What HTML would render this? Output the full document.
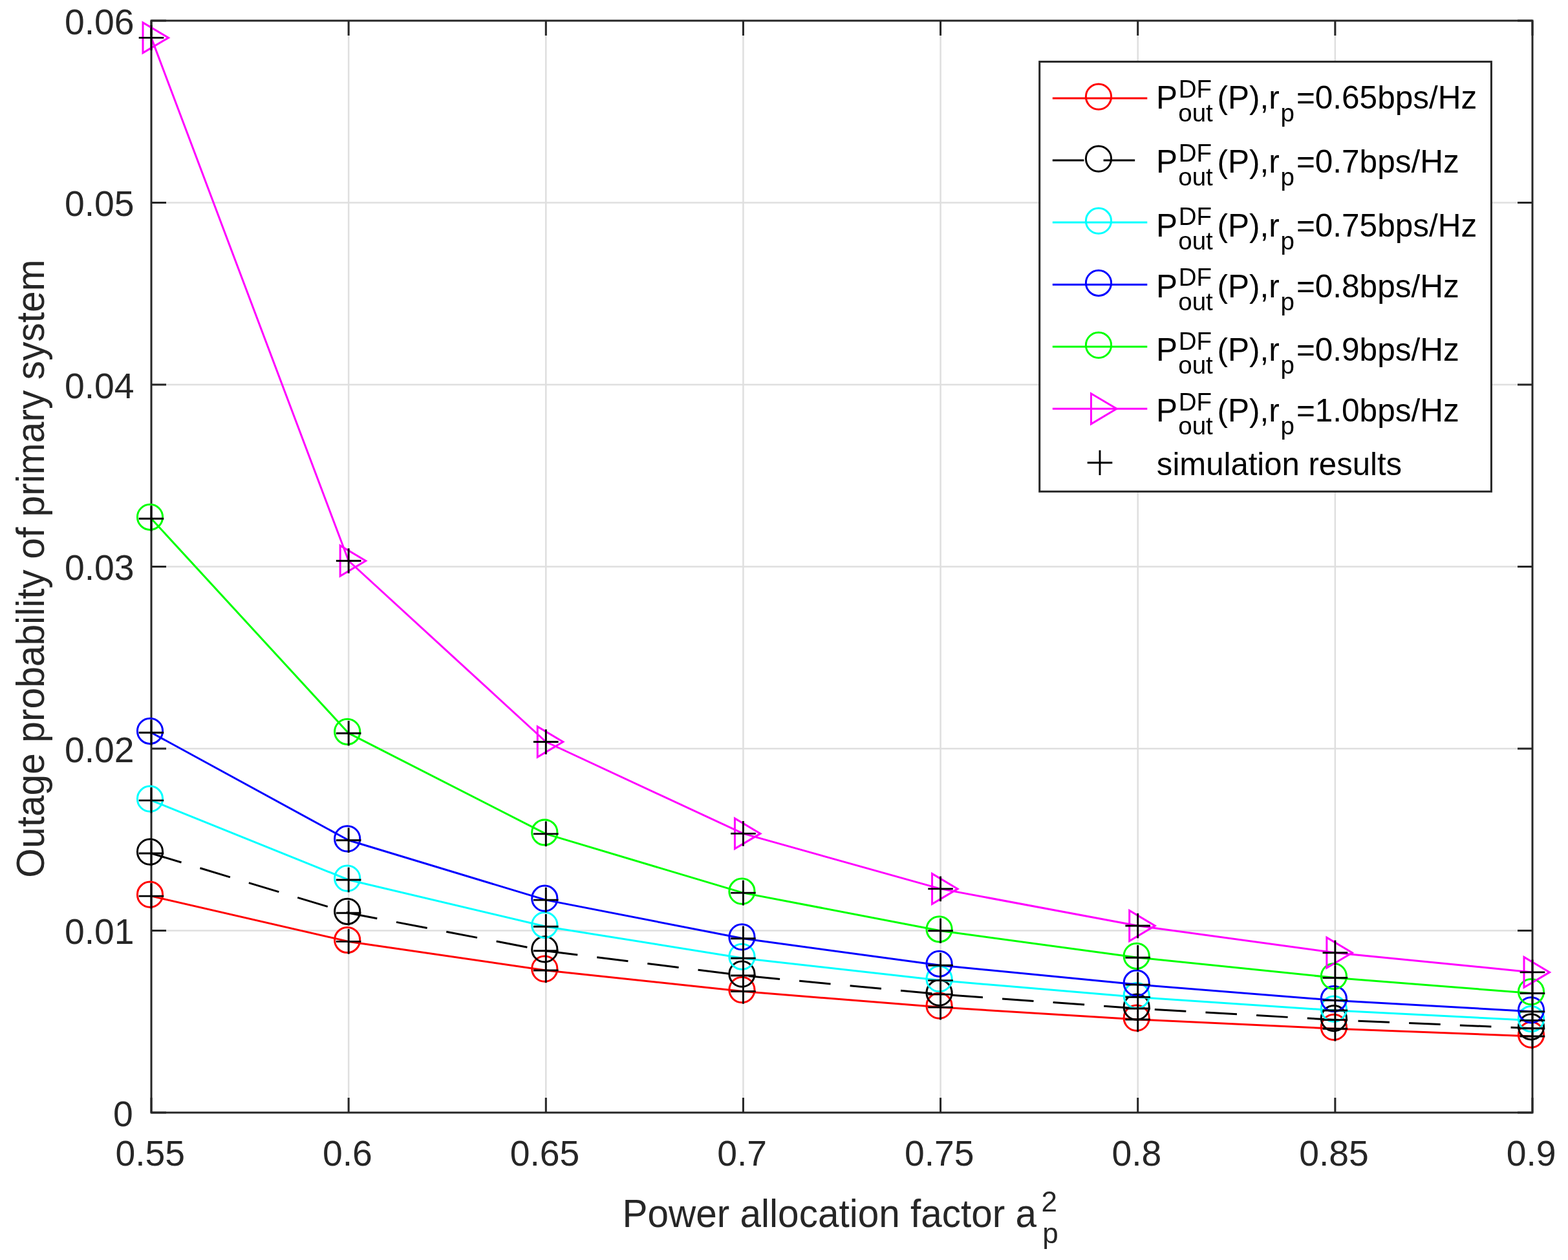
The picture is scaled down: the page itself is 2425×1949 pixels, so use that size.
<!DOCTYPE html>
<html><head><meta charset="utf-8"><title>Outage probability of primary system</title>
<style>
html,body{margin:0;padding:0;background:#fff;}
body{width:2425px;height:1949px;overflow:hidden;}
svg{display:block;}

text{font-family:'Liberation Sans', Arial, Helvetica, sans-serif;font-kerning:none;}
</style></head><body><div id="w">
<svg width="2425" height="1949" viewBox="0 0 2425 1949">
<rect width="2425" height="1949" fill="#fff"/>
<path d="M539.14 32.0V1721.0M844.29 32.0V1721.0M1149.43 32.0V1721.0M1454.57 32.0V1721.0M1759.71 32.0V1721.0M2064.86 32.0V1721.0M234.0 1439.50H2370.0M234.0 1158.00H2370.0M234.0 876.50H2370.0M234.0 595.00H2370.0M234.0 313.50H2370.0" stroke="#dfdfdf" stroke-width="2.5" fill="none"/>
<path d="M234.0 32.0H2370.0V1721.0H234.0Z" stroke="#262626" stroke-width="3.0" fill="none"/>
<path d="M539.14 1721.0v-23.0M539.14 32.0v23.0M844.29 1721.0v-23.0M844.29 32.0v23.0M1149.43 1721.0v-23.0M1149.43 32.0v23.0M1454.57 1721.0v-23.0M1454.57 32.0v23.0M1759.71 1721.0v-23.0M1759.71 32.0v23.0M2064.86 1721.0v-23.0M2064.86 32.0v23.0M234.00 1721.0v-23.0M234.00 32.0v23.0M2370.00 1721.0v-23.0M2370.00 32.0v23.0M234.0 1721.00h23.0M2370.0 1721.00h-23.0M234.0 1439.50h23.0M2370.0 1439.50h-23.0M234.0 1158.00h23.0M2370.0 1158.00h-23.0M234.0 876.50h23.0M2370.0 876.50h-23.0M234.0 595.00h23.0M2370.0 595.00h-23.0M234.0 313.50h23.0M2370.0 313.50h-23.0M234.0 32.00h23.0M2370.0 32.00h-23.0" stroke="#262626" stroke-width="3.0" fill="none"/>
<polyline points="234.00,1386.10 539.14,1456.40 844.29,1501.00 1149.43,1533.50 1454.57,1558.10 1759.71,1577.00 2064.86,1591.30 2370.00,1603.00" stroke="#ff0000" stroke-width="3.0" fill="none" stroke-linejoin="round"/>
<circle cx="232.00" cy="1383.70" r="19.6" stroke="#ff0000" stroke-width="3.0" fill="none"/>
<circle cx="537.14" cy="1454.00" r="19.6" stroke="#ff0000" stroke-width="3.0" fill="none"/>
<circle cx="842.29" cy="1498.60" r="19.6" stroke="#ff0000" stroke-width="3.0" fill="none"/>
<circle cx="1147.43" cy="1531.10" r="19.6" stroke="#ff0000" stroke-width="3.0" fill="none"/>
<circle cx="1452.57" cy="1555.70" r="19.6" stroke="#ff0000" stroke-width="3.0" fill="none"/>
<circle cx="1757.71" cy="1574.60" r="19.6" stroke="#ff0000" stroke-width="3.0" fill="none"/>
<circle cx="2062.86" cy="1588.90" r="19.6" stroke="#ff0000" stroke-width="3.0" fill="none"/>
<circle cx="2368.00" cy="1600.60" r="19.6" stroke="#ff0000" stroke-width="3.0" fill="none"/>
<polyline points="234.00,1320.00 539.14,1412.20 844.29,1470.80 1149.43,1509.00 1454.57,1538.10 1759.71,1560.00 2064.86,1577.60 2370.00,1590.70" stroke="#000000" stroke-width="3.0" fill="none" stroke-linejoin="round" stroke-dasharray="48.6 30.18"/>
<circle cx="232.00" cy="1317.60" r="19.6" stroke="#000000" stroke-width="3.0" fill="none"/>
<circle cx="537.14" cy="1409.80" r="19.6" stroke="#000000" stroke-width="3.0" fill="none"/>
<circle cx="842.29" cy="1468.40" r="19.6" stroke="#000000" stroke-width="3.0" fill="none"/>
<circle cx="1147.43" cy="1506.60" r="19.6" stroke="#000000" stroke-width="3.0" fill="none"/>
<circle cx="1452.57" cy="1535.70" r="19.6" stroke="#000000" stroke-width="3.0" fill="none"/>
<circle cx="1757.71" cy="1557.60" r="19.6" stroke="#000000" stroke-width="3.0" fill="none"/>
<circle cx="2062.86" cy="1575.20" r="19.6" stroke="#000000" stroke-width="3.0" fill="none"/>
<circle cx="2368.00" cy="1588.30" r="19.6" stroke="#000000" stroke-width="3.0" fill="none"/>
<polyline points="234.00,1238.10 539.14,1361.00 844.29,1433.20 1149.43,1482.20 1454.57,1516.60 1759.71,1542.40 2064.86,1563.00 2370.00,1578.40" stroke="#00ffff" stroke-width="3.0" fill="none" stroke-linejoin="round"/>
<circle cx="232.00" cy="1235.70" r="19.6" stroke="#00ffff" stroke-width="3.0" fill="none"/>
<circle cx="537.14" cy="1358.60" r="19.6" stroke="#00ffff" stroke-width="3.0" fill="none"/>
<circle cx="842.29" cy="1430.80" r="19.6" stroke="#00ffff" stroke-width="3.0" fill="none"/>
<circle cx="1147.43" cy="1479.80" r="19.6" stroke="#00ffff" stroke-width="3.0" fill="none"/>
<circle cx="1452.57" cy="1514.20" r="19.6" stroke="#00ffff" stroke-width="3.0" fill="none"/>
<circle cx="1757.71" cy="1540.00" r="19.6" stroke="#00ffff" stroke-width="3.0" fill="none"/>
<circle cx="2062.86" cy="1560.60" r="19.6" stroke="#00ffff" stroke-width="3.0" fill="none"/>
<circle cx="2368.00" cy="1576.00" r="19.6" stroke="#00ffff" stroke-width="3.0" fill="none"/>
<polyline points="234.00,1133.20 539.14,1299.80 844.29,1392.10 1149.43,1451.80 1454.57,1493.20 1759.71,1523.10 2064.86,1547.40 2370.00,1564.70" stroke="#0000ff" stroke-width="3.0" fill="none" stroke-linejoin="round"/>
<circle cx="232.00" cy="1130.80" r="19.6" stroke="#0000ff" stroke-width="3.0" fill="none"/>
<circle cx="537.14" cy="1297.40" r="19.6" stroke="#0000ff" stroke-width="3.0" fill="none"/>
<circle cx="842.29" cy="1389.70" r="19.6" stroke="#0000ff" stroke-width="3.0" fill="none"/>
<circle cx="1147.43" cy="1449.40" r="19.6" stroke="#0000ff" stroke-width="3.0" fill="none"/>
<circle cx="1452.57" cy="1490.80" r="19.6" stroke="#0000ff" stroke-width="3.0" fill="none"/>
<circle cx="1757.71" cy="1520.70" r="19.6" stroke="#0000ff" stroke-width="3.0" fill="none"/>
<circle cx="2062.86" cy="1545.00" r="19.6" stroke="#0000ff" stroke-width="3.0" fill="none"/>
<circle cx="2368.00" cy="1562.30" r="19.6" stroke="#0000ff" stroke-width="3.0" fill="none"/>
<polyline points="234.00,802.20 539.14,1134.20 844.29,1289.90 1149.43,1381.10 1454.57,1439.70 1759.71,1481.20 2064.86,1512.50 2370.00,1536.50" stroke="#00ff00" stroke-width="3.0" fill="none" stroke-linejoin="round"/>
<circle cx="232.00" cy="799.80" r="19.6" stroke="#00ff00" stroke-width="3.0" fill="none"/>
<circle cx="537.14" cy="1131.80" r="19.6" stroke="#00ff00" stroke-width="3.0" fill="none"/>
<circle cx="842.29" cy="1287.50" r="19.6" stroke="#00ff00" stroke-width="3.0" fill="none"/>
<circle cx="1147.43" cy="1378.70" r="19.6" stroke="#00ff00" stroke-width="3.0" fill="none"/>
<circle cx="1452.57" cy="1437.30" r="19.6" stroke="#00ff00" stroke-width="3.0" fill="none"/>
<circle cx="1757.71" cy="1478.80" r="19.6" stroke="#00ff00" stroke-width="3.0" fill="none"/>
<circle cx="2062.86" cy="1510.10" r="19.6" stroke="#00ff00" stroke-width="3.0" fill="none"/>
<circle cx="2368.00" cy="1534.10" r="19.6" stroke="#00ff00" stroke-width="3.0" fill="none"/>
<polyline points="234.00,58.40 539.14,867.50 844.29,1147.50 1149.43,1289.40 1454.57,1374.90 1759.71,1432.00 2064.86,1473.70 2370.00,1503.90" stroke="#ff00ff" stroke-width="3.0" fill="none" stroke-linejoin="round"/>
<polygon points="221.00,34.90 221.00,81.90 260.50,58.40" stroke="#ff00ff" stroke-width="3.0" fill="none" stroke-linejoin="miter"/>
<polygon points="526.14,844.00 526.14,891.00 565.64,867.50" stroke="#ff00ff" stroke-width="3.0" fill="none" stroke-linejoin="miter"/>
<polygon points="831.29,1124.00 831.29,1171.00 870.79,1147.50" stroke="#ff00ff" stroke-width="3.0" fill="none" stroke-linejoin="miter"/>
<polygon points="1136.43,1265.90 1136.43,1312.90 1175.93,1289.40" stroke="#ff00ff" stroke-width="3.0" fill="none" stroke-linejoin="miter"/>
<polygon points="1441.57,1351.40 1441.57,1398.40 1481.07,1374.90" stroke="#ff00ff" stroke-width="3.0" fill="none" stroke-linejoin="miter"/>
<polygon points="1746.71,1408.50 1746.71,1455.50 1786.21,1432.00" stroke="#ff00ff" stroke-width="3.0" fill="none" stroke-linejoin="miter"/>
<polygon points="2051.86,1450.20 2051.86,1497.20 2091.36,1473.70" stroke="#ff00ff" stroke-width="3.0" fill="none" stroke-linejoin="miter"/>
<polygon points="2357.00,1480.40 2357.00,1527.40 2396.50,1503.90" stroke="#ff00ff" stroke-width="3.0" fill="none" stroke-linejoin="miter"/>
<path d="M214.70 1386.10h38.6M234.00 1366.80v38.6M519.84 1456.40h38.6M539.14 1437.10v38.6M824.99 1501.00h38.6M844.29 1481.70v38.6M1130.13 1533.50h38.6M1149.43 1514.20v38.6M1435.27 1558.10h38.6M1454.57 1538.80v38.6M1740.41 1577.00h38.6M1759.71 1557.70v38.6M2045.56 1591.30h38.6M2064.86 1572.00v38.6M2350.70 1603.00h38.6M2370.00 1583.70v38.6M214.70 1320.00h38.6M234.00 1300.70v38.6M519.84 1412.20h38.6M539.14 1392.90v38.6M824.99 1470.80h38.6M844.29 1451.50v38.6M1130.13 1509.00h38.6M1149.43 1489.70v38.6M1435.27 1538.10h38.6M1454.57 1518.80v38.6M1740.41 1560.00h38.6M1759.71 1540.70v38.6M2045.56 1577.60h38.6M2064.86 1558.30v38.6M2350.70 1590.70h38.6M2370.00 1571.40v38.6M214.70 1238.10h38.6M234.00 1218.80v38.6M519.84 1361.00h38.6M539.14 1341.70v38.6M824.99 1433.20h38.6M844.29 1413.90v38.6M1130.13 1482.20h38.6M1149.43 1462.90v38.6M1435.27 1516.60h38.6M1454.57 1497.30v38.6M1740.41 1542.40h38.6M1759.71 1523.10v38.6M2045.56 1563.00h38.6M2064.86 1543.70v38.6M2350.70 1578.40h38.6M2370.00 1559.10v38.6M214.70 1133.20h38.6M234.00 1113.90v38.6M519.84 1299.80h38.6M539.14 1280.50v38.6M824.99 1392.10h38.6M844.29 1372.80v38.6M1130.13 1451.80h38.6M1149.43 1432.50v38.6M1435.27 1493.20h38.6M1454.57 1473.90v38.6M1740.41 1523.10h38.6M1759.71 1503.80v38.6M2045.56 1547.40h38.6M2064.86 1528.10v38.6M2350.70 1564.70h38.6M2370.00 1545.40v38.6M214.70 802.20h38.6M234.00 782.90v38.6M519.84 1134.20h38.6M539.14 1114.90v38.6M824.99 1289.90h38.6M844.29 1270.60v38.6M1130.13 1381.10h38.6M1149.43 1361.80v38.6M1435.27 1439.70h38.6M1454.57 1420.40v38.6M1740.41 1481.20h38.6M1759.71 1461.90v38.6M2045.56 1512.50h38.6M2064.86 1493.20v38.6M2350.70 1536.50h38.6M2370.00 1517.20v38.6M214.70 58.40h38.6M234.00 39.10v38.6M519.84 867.50h38.6M539.14 848.20v38.6M824.99 1147.50h38.6M844.29 1128.20v38.6M1130.13 1289.40h38.6M1149.43 1270.10v38.6M1435.27 1374.90h38.6M1454.57 1355.60v38.6M1740.41 1432.00h38.6M1759.71 1412.70v38.6M2045.56 1473.70h38.6M2064.86 1454.40v38.6M2350.70 1503.90h38.6M2370.00 1484.60v38.6" stroke="#000" stroke-width="2.9" fill="none"/>
<text x="205.8" y="1741.80" text-anchor="end" font-size="55.3" fill="#262626">0</text>
<text x="207.6" y="1460.30" text-anchor="end" font-size="55.3" fill="#262626">0.01</text>
<text x="207.6" y="1178.80" text-anchor="end" font-size="55.3" fill="#262626">0.02</text>
<text x="207.6" y="897.30" text-anchor="end" font-size="55.3" fill="#262626">0.03</text>
<text x="207.6" y="615.80" text-anchor="end" font-size="55.3" fill="#262626">0.04</text>
<text x="207.6" y="334.30" text-anchor="end" font-size="55.3" fill="#262626">0.05</text>
<text x="207.6" y="52.80" text-anchor="end" font-size="55.3" fill="#262626">0.06</text>
<text x="232.20" y="1803.3" text-anchor="middle" font-size="55.3" fill="#262626">0.55</text>
<text x="537.34" y="1803.3" text-anchor="middle" font-size="55.3" fill="#262626">0.6</text>
<text x="842.49" y="1803.3" text-anchor="middle" font-size="55.3" fill="#262626">0.65</text>
<text x="1147.63" y="1803.3" text-anchor="middle" font-size="55.3" fill="#262626">0.7</text>
<text x="1452.77" y="1803.3" text-anchor="middle" font-size="55.3" fill="#262626">0.75</text>
<text x="1757.91" y="1803.3" text-anchor="middle" font-size="55.3" fill="#262626">0.8</text>
<text x="2063.06" y="1803.3" text-anchor="middle" font-size="55.3" fill="#262626">0.85</text>
<text x="2368.20" y="1803.3" text-anchor="middle" font-size="55.3" fill="#262626">0.9</text>
<text transform="translate(962.5 1897.8) scale(0.9514 1)" font-size="61.5" fill="#262626">Power allocation factor a</text>
<text x="1610.6" y="1873.6" font-size="44" fill="#262626">2</text>
<text x="1612.2" y="1922.8" font-size="44" fill="#262626">p</text>
<text transform="translate(67.6 1357.7) rotate(-90) scale(0.955 1)" font-size="61.5" fill="#262626">Outage probability of primary system</text>
<rect x="1607.7" y="95.4" width="698.7" height="664.9" fill="#fff" stroke="#262626" stroke-width="3.0"/>
<line x1="1627.8" y1="152.0" x2="1774.3" y2="152.0" stroke="#ff0000" stroke-width="3.0"/>
<circle cx="1699.00" cy="149.60" r="19.6" stroke="#ff0000" stroke-width="3.0" fill="none"/>
<g fill="#000"><text x="1788.1" y="168.0" font-size="49.5">P</text><text x="1822.7" y="150.6" font-size="38.5">DF</text><text x="1822.3" y="188.2" font-size="38.5">out</text><text x="1882.5" y="168.0" font-size="49.5">(P),r</text><text x="1980.5" y="188.2" font-size="38.5">p</text><text x="2004.9" y="168.0" font-size="49.5">=0.65bps/Hz</text></g>
<line x1="1627.8" y1="248.0" x2="1774.3" y2="248.0" stroke="#000000" stroke-width="3.0" stroke-dasharray="48.6 30.18"/>
<circle cx="1699.00" cy="245.60" r="19.6" stroke="#000000" stroke-width="3.0" fill="none"/>
<g fill="#000"><text x="1788.1" y="266.9" font-size="49.5">P</text><text x="1822.7" y="249.5" font-size="38.5">DF</text><text x="1822.3" y="287.1" font-size="38.5">out</text><text x="1882.5" y="266.9" font-size="49.5">(P),r</text><text x="1980.5" y="287.1" font-size="38.5">p</text><text x="2004.9" y="266.9" font-size="49.5">=0.7bps/Hz</text></g>
<line x1="1627.8" y1="344.1" x2="1774.3" y2="344.1" stroke="#00ffff" stroke-width="3.0"/>
<circle cx="1699.00" cy="341.70" r="19.6" stroke="#00ffff" stroke-width="3.0" fill="none"/>
<g fill="#000"><text x="1788.1" y="365.7" font-size="49.5">P</text><text x="1822.7" y="348.3" font-size="38.5">DF</text><text x="1822.3" y="385.9" font-size="38.5">out</text><text x="1882.5" y="365.7" font-size="49.5">(P),r</text><text x="1980.5" y="385.9" font-size="38.5">p</text><text x="2004.9" y="365.7" font-size="49.5">=0.75bps/Hz</text></g>
<line x1="1627.8" y1="440.2" x2="1774.3" y2="440.2" stroke="#0000ff" stroke-width="3.0"/>
<circle cx="1699.00" cy="437.80" r="19.6" stroke="#0000ff" stroke-width="3.0" fill="none"/>
<g fill="#000"><text x="1788.1" y="459.5" font-size="49.5">P</text><text x="1822.7" y="442.1" font-size="38.5">DF</text><text x="1822.3" y="479.7" font-size="38.5">out</text><text x="1882.5" y="459.5" font-size="49.5">(P),r</text><text x="1980.5" y="479.7" font-size="38.5">p</text><text x="2004.9" y="459.5" font-size="49.5">=0.8bps/Hz</text></g>
<line x1="1627.8" y1="536.3" x2="1774.3" y2="536.3" stroke="#00ff00" stroke-width="3.0"/>
<circle cx="1699.00" cy="533.90" r="19.6" stroke="#00ff00" stroke-width="3.0" fill="none"/>
<g fill="#000"><text x="1788.1" y="558.2" font-size="49.5">P</text><text x="1822.7" y="540.8" font-size="38.5">DF</text><text x="1822.3" y="578.4" font-size="38.5">out</text><text x="1882.5" y="558.2" font-size="49.5">(P),r</text><text x="1980.5" y="578.4" font-size="38.5">p</text><text x="2004.9" y="558.2" font-size="49.5">=0.9bps/Hz</text></g>
<line x1="1627.8" y1="632.3" x2="1774.3" y2="632.3" stroke="#ff00ff" stroke-width="3.0"/>
<polygon points="1687.50,608.80 1687.50,655.80 1727.00,632.30" stroke="#ff00ff" stroke-width="3.0" fill="none" stroke-linejoin="miter"/>
<g fill="#000"><text x="1788.1" y="652.0" font-size="49.5">P</text><text x="1822.7" y="634.6" font-size="38.5">DF</text><text x="1822.3" y="672.2" font-size="38.5">out</text><text x="1882.5" y="652.0" font-size="49.5">(P),r</text><text x="1980.5" y="672.2" font-size="38.5">p</text><text x="2004.9" y="652.0" font-size="49.5">=1.0bps/Hz</text></g>
<path d="M1681.70 715.80h38.6M1701.00 696.50v38.6" stroke="#000" stroke-width="2.9" fill="none"/>
<text transform="translate(1788.83 735.1) scale(0.992 1)" font-size="49.5" fill="#000">simulation results</text>
</svg>
</div></body></html>
